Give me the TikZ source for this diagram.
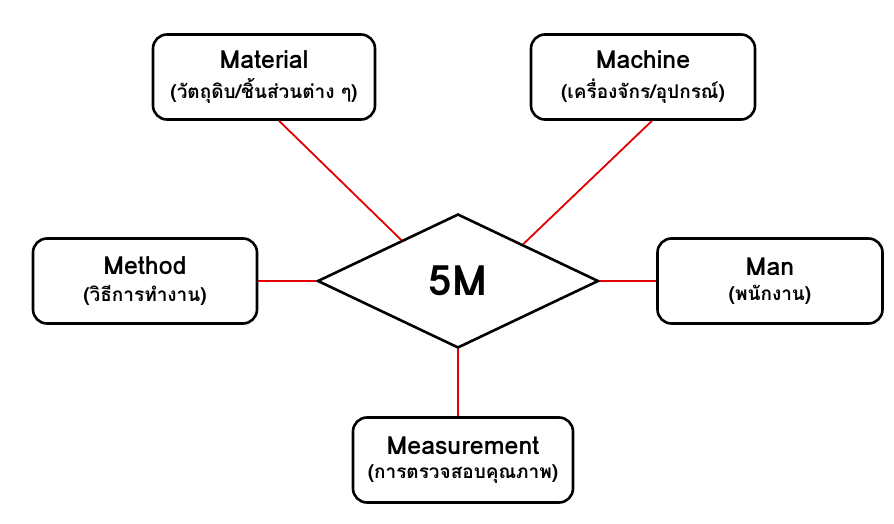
\documentclass[tikz,border=0pt]{standalone}
\usepackage{fontspec}
\setmainfont{Loma}[Script=Thai]
\newfontfamily\thaifont[Script=Thai]{Loma}
\usetikzlibrary{shapes.geometric,calc}
\newcommand{\mtitle}[1]{{\fontsize{25}{28}\selectfont\bfseries #1}}
\newcommand{\msub}[1]{{\thaifont\fontsize{19}{22}\selectfont\bfseries #1}}
\begin{document}
\begin{tikzpicture}[x=1pt,y=-1pt,
  mbox/.style={draw=black, line width=2.6pt, rounded corners=14pt, fill=white,
    minimum height=85pt, align=center, inner sep=0pt},
  link/.style={draw=red!90!black, line width=1.8pt}]
\useasboundingbox (0,0) rectangle (894,524);

% centre diamond
\node[diamond, draw=black, line width=2.6pt, fill=white, inner sep=0pt,
  minimum width=281pt, minimum height=134pt,
  font=\fontsize{42}{46}\selectfont\bfseries] (dia) at (458,281) {5M};

% the five M boxes
\node[mbox, minimum width=222pt] (mat) at (264,77)
  {\mtitle{Material}\\[9pt]\msub{(วัตถุดิบ/ชิ้นส่วนต่าง ๆ)}};
\node[mbox, minimum width=224pt] (mach) at (643,77)
  {\mtitle{Machine}\\[9pt]\msub{(เครื่องจักร/อุปกรณ์)}};
\node[mbox, minimum width=224pt] (meth) at (145,281)
  {\mtitle{Method}\\[9pt]\msub{(วิธีการทำงาน)}};
\node[mbox, minimum width=225pt] (man) at (770,281)
  {\mtitle{Man}\\[9pt]\msub{(พนักงาน)}};
\node[mbox, minimum width=220pt] (meas) at (463,460)
  {\mtitle{Measurement}\\[9pt]\msub{(การตรวจสอบคุณภาพ)}};

% red connectors
\draw[link] ([xshift=15pt]mat.south) -- ($(dia.west)!0.6!(dia.north)$);
\draw[link] ([xshift=9pt]mach.south) -- ($(dia.north)!0.46!(dia.east)$);
\draw[link] (meth.east) -- (dia.west);
\draw[link] (dia.east) -- (man.west);
\draw[link] (dia.south) -- (dia.south |- meas.north);
\end{tikzpicture}
\end{document}
